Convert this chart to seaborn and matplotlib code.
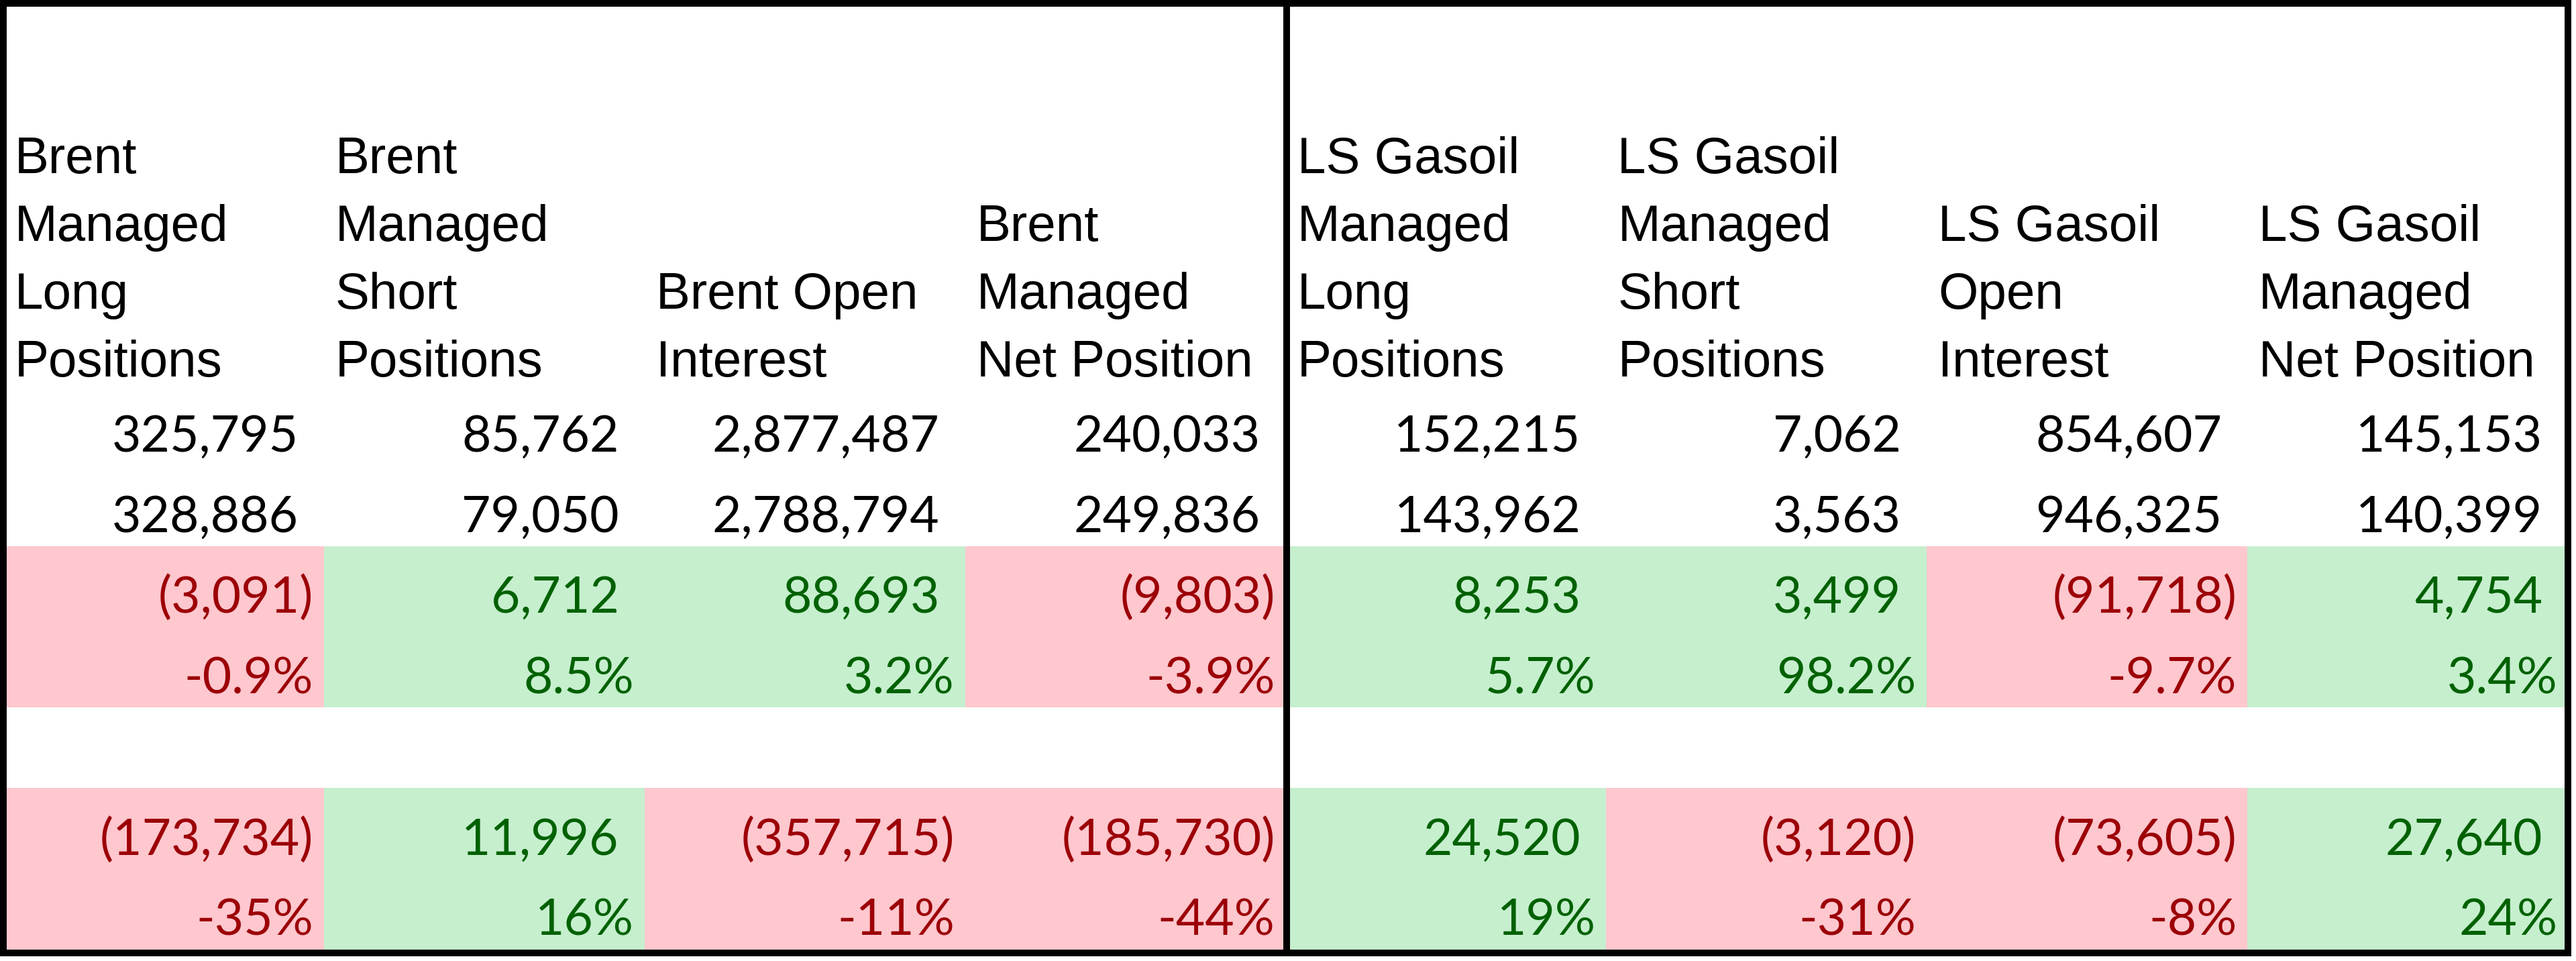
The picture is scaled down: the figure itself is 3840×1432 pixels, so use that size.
import numpy as np
import pandas as pd
import matplotlib
matplotlib.use("Agg")
import matplotlib.pyplot as plt
from matplotlib.colors import ListedColormap
from matplotlib.patches import Rectangle
import seaborn as sns

# ---------------- data ----------------
headers = [
    "Brent\nManaged\nLong\nPositions",
    "Brent\nManaged\nShort\nPositions",
    "Brent Open\nInterest",
    "Brent\nManaged\nNet Position",
    "LS Gasoil\nManaged\nLong\nPositions",
    "LS Gasoil\nManaged\nShort\nPositions",
    "LS Gasoil\nOpen\nInterest",
    "LS Gasoil\nManaged\nNet Position",
]
current = [325795, 85762, 2877487, 240033, 152215, 7062, 854607, 145153]
previous = [328886, 79050, 2788794, 249836, 143962, 3563, 946325, 140399]
weekly_change = [-3091, 6712, 88693, -9803, 8253, 3499, -91718, 4754]
weekly_pct = [-0.9, 8.5, 3.2, -3.9, 5.7, 98.2, -9.7, 3.4]
yearly_change = [-173734, 11996, -357715, -185730, 24520, -3120, -73605, 27640]
yearly_pct = [-35, 16, -11, -44, 19, -31, -8, 24]

# ---------------- style ----------------
PINK, GREEN_FILL = "#FFC7CE", "#C6EFCE"
RED_TXT, GREEN_TXT = "#9C0006", "#006100"
HEAD_FONT = ["Liberation Sans", "DejaVu Sans"]
NUM_FONT = ["Lato", "DejaVu Sans"]
HEAD_SIZE = 55
NUM_SIZE = 54

sns.set_theme(style="white")
W, H = 3840, 1432
fig = plt.figure(figsize=(W / 100, H / 100), dpi=100)
fig.patch.set_facecolor("white")

X0, X1 = 5, 3828          # table left/right (px)
Y_DATA0, Y_DATA1 = 573, 1415  # data rows top/bottom (px)
ncol = len(headers)
col_w = (X1 - X0) / ncol
row_h = (Y_DATA1 - Y_DATA0) / 7


def fmt_num(v):
    return f"({abs(v):,})" if v < 0 else f"{v:,}"


rows_text = [
    [fmt_num(v) for v in current],
    [fmt_num(v) for v in previous],
    [fmt_num(v) for v in weekly_change],
    [f"{v:.1f}%" for v in weekly_pct],
    [""] * ncol,
    [fmt_num(v) for v in yearly_change],
    [f"{v:.0f}%" for v in yearly_pct],
]
signs = [None, None, weekly_change, weekly_pct, None, yearly_change, yearly_pct]

fill = np.full((7, ncol), np.nan)
for r, s in enumerate(signs):
    if s is not None:
        fill[r] = [1.0 if v > 0 else 0.0 for v in s]
fill_df = pd.DataFrame(fill, columns=[h.replace("\n", " ") for h in headers])

ax = fig.add_axes([X0 / W, 1 - Y_DATA1 / H, (X1 - X0) / W, (Y_DATA1 - Y_DATA0) / H])
sns.heatmap(fill_df, ax=ax, cmap=ListedColormap([PINK, GREEN_FILL]), vmin=0, vmax=1,
            cbar=False, xticklabels=False, yticklabels=False, linewidths=0)
ax.set_facecolor("white")
for sp in ax.spines.values():
    sp.set_visible(False)

base_pad = 16 / col_w
paren_pad = 38 / col_w
baseline_off = 21 / row_h
for r, row in enumerate(rows_text):
    for c, s in enumerate(row):
        if not s:
            continue
        if signs[r] is None:
            color = "black"
        else:
            color = GREEN_TXT if signs[r][c] > 0 else RED_TXT
        pad = base_pad if (s.endswith(")") or s.endswith("%")) else paren_pad
        ax.text(c + 1 - pad, r + 1 - baseline_off, s, ha="right", va="baseline",
                color=color, fontsize=NUM_SIZE, family=NUM_FONT)

# overlay for header + borders
ov = fig.add_axes([0, 0, 1, 1], zorder=5)
ov.set_xlim(0, W)
ov.set_ylim(H, 0)
ov.axis("off")
ov.patch.set_alpha(0)

line_gap = 101
last_baseline = 561
for c, h in enumerate(headers):
    lines = h.split("\n")
    n = len(lines)
    for i, ln in enumerate(lines):
        y = last_baseline - (n - 1 - i) * line_gap
        ov.text(X0 + c * col_w + 17, y, ln, ha="left", va="baseline",
                fontsize=HEAD_SIZE, family=HEAD_FONT, color="black")

ov.add_patch(Rectangle((5, 5), X1 - 5, 1420 - 5, fill=False, lw=7.2, ec="black"))
ov.plot([X0 + 4 * col_w + 1, X0 + 4 * col_w + 1], [5, 1420], lw=7.2, color="black",
        solid_capstyle="butt")

fig.savefig("out.png", dpi=100, facecolor="white")
